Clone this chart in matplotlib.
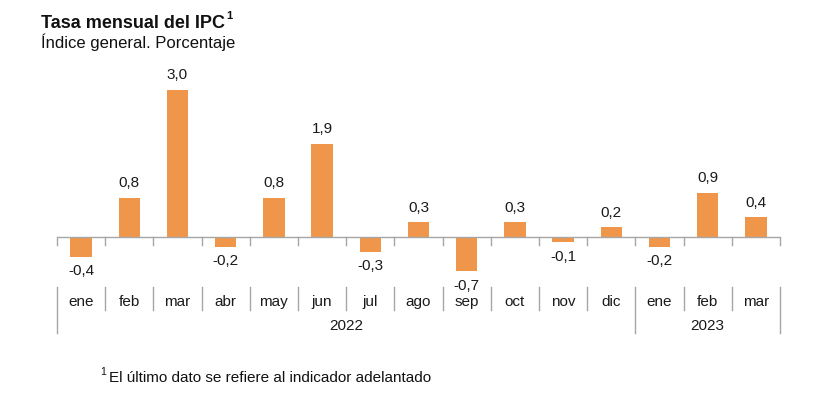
import matplotlib
matplotlib.use("Agg")
import matplotlib.pyplot as plt
from matplotlib.transforms import blended_transform_factory
from matplotlib.lines import Line2D

plt.rcParams['font.family'] = ['Liberation Sans', 'DejaVu Sans']

months = ["ene", "feb", "mar", "abr", "may", "jun", "jul", "ago", "sep", "oct", "nov", "dic", "ene", "feb", "mar"]
values = [-0.4, 0.8, 3.0, -0.2, 0.8, 1.9, -0.3, 0.3, -0.7, 0.3, -0.1, 0.2, -0.2, 0.9, 0.4]
years = ["2022", "2023"]
year_counts = [12, 3]

W, H = 828, 404
fig = plt.figure(figsize=(W / 100, H / 100), dpi=100)
ax_left, ax_right, ax_top, ax_bot = 57, 780, 60, 287
ax = fig.add_axes([ax_left / W, 1 - ax_bot / H, (ax_right - ax_left) / W, (ax_bot - ax_top) / H])

n = len(months)
xs = list(range(n))
bar_color = "#F0964B"
ax.bar(xs, values, width=0.44, color=bar_color, zorder=2)
ax.set_xlim(-0.5, n - 0.5)
ax.set_ylim(-1.02, 3.61)
ax.axis("off")

gray = "#A6A6A6"
ax.axhline(0, color=gray, lw=1.0, zorder=3)

def fy(px):
    return 1 - px / H

tr = blended_transform_factory(ax.transData, fig.transFigure)

# value labels
for x, v in zip(xs, values):
    lab = f"{v:.1f}".replace(".", ",")
    if v >= 0:
        ax.annotate(lab, (x, v), xytext=(0, 5.5), textcoords="offset points",
                    ha="center", va="bottom", fontsize=11, color="#1a1a1a")
    else:
        ax.annotate(lab, (x, v), xytext=(0, -5.5), textcoords="offset points",
                    ha="center", va="top", fontsize=11, color="#1a1a1a")

# tick marks on the zero line
for b in range(n + 1):
    xb = b - 0.5
    fig.add_artist(Line2D([xb, xb], [fy(237), fy(245)], transform=tr, color=gray, lw=1.0))

# month labels and separators
year_bounds = [0]
for c in year_counts:
    year_bounds.append(year_bounds[-1] + c)
for b in range(n + 1):
    xb = b - 0.5
    if b in year_bounds:
        y0, y1 = 287, 333
    else:
        y0, y1 = 287, 310
    fig.add_artist(Line2D([xb, xb], [fy(y0), fy(y1)], transform=tr, color=gray, lw=1.0))
for x, m in zip(xs, months):
    fig.text(x, fy(302), m, transform=tr, ha="center", va="center", fontsize=11, color="#1a1a1a")
for i, yr in enumerate(years):
    xc = (year_bounds[i] + year_bounds[i + 1] - 1) / 2
    fig.text(xc, fy(326), yr, transform=tr, ha="center", va="center", fontsize=11, color="#1a1a1a")

# titles
fig.text(41 / W, fy(28), r"Tasa mensual del IPC", ha="left", va="baseline",
         fontsize=13, fontweight="bold", color="#111111")
fig.text(226 / W, fy(19), "1", ha="left", va="baseline", fontsize=8, fontweight="bold", color="#111111")
fig.text(41 / W, fy(48), "Índice general. Porcentaje", ha="left", va="baseline",
         fontsize=12, color="#111111")
fig.text(100 / W, fy(375), "1", ha="left", va="baseline", fontsize=7.5, color="#111111")
fig.text(109 / W, fy(382), "El último dato se refiere al indicador adelantado",
         ha="left", va="baseline", fontsize=11, color="#111111")

fig.savefig("out.png", dpi=100)
